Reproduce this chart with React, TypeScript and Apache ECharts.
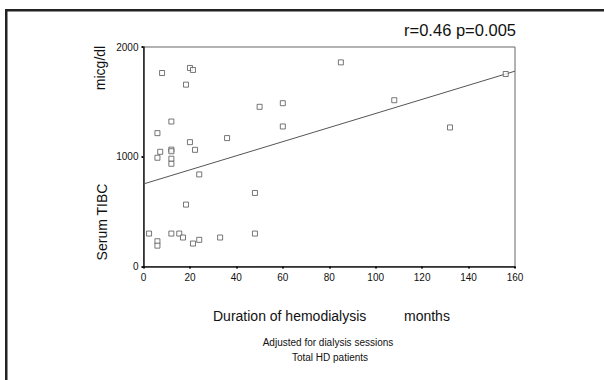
import React, { useEffect, useRef } from "react";
import * as echarts from "echarts";

// Duration of hemodialysis (months) and serum TIBC (micg/dl) per patient
const durationMonths = [
  2.4, 6, 6, 12, 15.4, 17, 21.3, 24, 33, 48, 48, 18.3, 24, 6, 7.2, 12, 12, 12, 12,
  22.2, 20, 6, 12, 36, 50, 60, 60, 8, 18.3, 20, 21.3, 85, 108, 132, 156,
];
const serumTibc = [
  300, 230, 190, 300, 300, 264, 209, 243, 264, 300, 670, 564, 839, 991, 1045, 1065,
  1050, 982, 936, 1063, 1133, 1215, 1321, 1170, 1455, 1488, 1276, 1763, 1657, 1809,
  1791, 1860, 1515, 1267, 1754,
];
// Fitted regression line end points
const fitX = [0, 160];
const fitY = [752, 1780];

const xTicks = [0, 20, 40, 60, 80, 100, 120, 140, 160];
const yTicks = [0, 1000, 2000];

const FONT = "'Liberation Sans', Arial, sans-serif";

export default function App() {
  const ref = useRef<HTMLDivElement>(null);

  useEffect(() => {
    if (!ref.current) return;
    const chart = echarts.init(ref.current, null, { renderer: "svg" });
    const points = durationMonths.map((x, i) => [x, serumTibc[i]]);
    const fit = fitX.map((x, i) => [x, fitY[i]]);

    chart.setOption({
      animation: false,
      backgroundColor: "#fff",
      textStyle: { fontFamily: FONT },
      grid: {
        left: 143.5,
        right: 89,
        top: 47,
        bottom: 113.5,
        show: true,
        borderColor: "#666",
        borderWidth: 1,
        backgroundColor: "transparent",
      },
      xAxis: {
        type: "value",
        min: xTicks[0],
        max: xTicks[xTicks.length - 1],
        interval: 20,
        splitLine: { show: false },
        axisLine: { show: true, onZero: false, lineStyle: { color: "#222", width: 1.5 } },
        axisTick: { show: true, length: 2, lineStyle: { color: "#111", width: 2 } },
        axisLabel: {
          color: "#111",
          fontSize: 10,
          margin: 6,
          fontFamily: FONT,
          formatter: (v: number) => String(v),
        },
      },
      yAxis: {
        type: "value",
        min: yTicks[0],
        max: yTicks[yTicks.length - 1],
        interval: 1000,
        splitLine: { show: false },
        axisLine: { show: true, onZero: false, lineStyle: { color: "#222", width: 1.5 } },
        axisTick: { show: true, length: 2, lineStyle: { color: "#111", width: 2 } },
        axisLabel: {
          color: "#111",
          fontSize: 10,
          margin: 5,
          fontFamily: FONT,
          formatter: (v: number) => String(v),
        },
      },
      series: [
        {
          type: "line",
          data: fit,
          symbol: "none",
          lineStyle: { color: "#555", width: 1 },
          silent: true,
          z: 2,
        },
        {
          type: "scatter",
          data: points,
          symbol: "rect",
          symbolSize: 5,
          itemStyle: { color: "#fff", borderColor: "#555", borderWidth: 1 },
          z: 3,
        },
      ],
      graphic: [
        // outer frame (top and left edges)
        { type: "rect", shape: { x: 5, y: 9, width: 600, height: 2.5 }, style: { fill: "#222" } },
        { type: "rect", shape: { x: 5, y: 9, width: 2.5, height: 372 }, style: { fill: "#222" } },
        {
          type: "text",
          x: 516,
          y: 30,
          style: {
            text: "r=0.46 p=0.005",
            fontSize: 16.5,
            fontFamily: FONT,
            fill: "#111",
            align: "right",
            verticalAlign: "middle",
          },
        },
        {
          type: "text",
          x: 100,
          y: 68,
          rotation: Math.PI / 2,
          style: {
            text: "micg/dl",
            fontSize: 14,
            fontFamily: FONT,
            fill: "#111",
            align: "center",
            verticalAlign: "middle",
          },
        },
        {
          type: "text",
          x: 102,
          y: 222,
          rotation: Math.PI / 2,
          style: {
            text: "Serum TIBC",
            fontSize: 14,
            fontFamily: FONT,
            fill: "#111",
            align: "center",
            verticalAlign: "middle",
          },
        },
        {
          type: "text",
          x: 213,
          y: 316,
          style: {
            text: "Duration of hemodialysis",
            fontSize: 14,
            fontFamily: FONT,
            fill: "#111",
            align: "left",
            verticalAlign: "middle",
          },
        },
        {
          type: "text",
          x: 404,
          y: 316,
          style: {
            text: "months",
            fontSize: 14,
            fontFamily: FONT,
            fill: "#111",
            align: "left",
            verticalAlign: "middle",
          },
        },
        {
          type: "text",
          x: 328,
          y: 342,
          style: {
            text: "Adjusted for dialysis sessions",
            fontSize: 10,
            fontFamily: FONT,
            fill: "#111",
            align: "center",
            verticalAlign: "middle",
          },
        },
        {
          type: "text",
          x: 330,
          y: 357,
          style: {
            text: "Total HD patients",
            fontSize: 10,
            fontFamily: FONT,
            fill: "#111",
            align: "center",
            verticalAlign: "middle",
          },
        },
      ],
    });

    return () => chart.dispose();
  }, []);

  return (
    <div
      ref={ref}
      style={{ position: "fixed", left: 0, top: 0, width: 604, height: 380, background: "#fff" }}
    />
  );
}
